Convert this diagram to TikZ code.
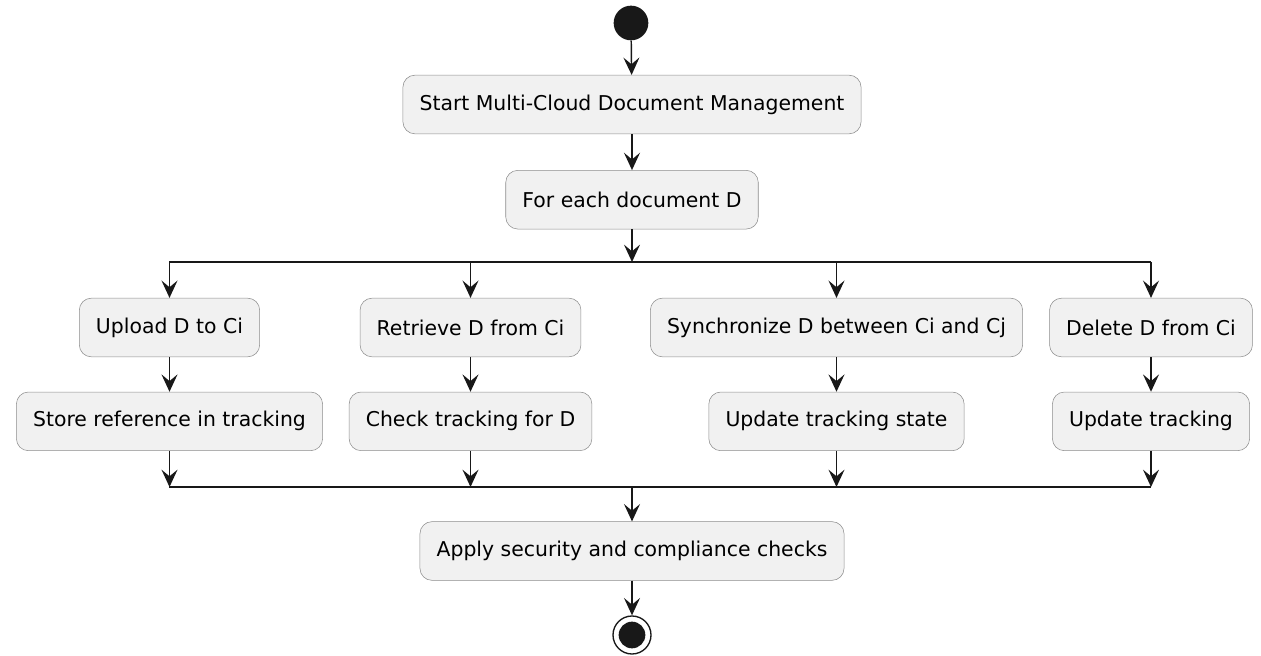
\documentclass[tikz,border=0pt]{standalone}
\usepackage{fontspec}
\setmainfont{DejaVu Sans}
\usetikzlibrary{arrows.meta,positioning}
\definecolor{ink}{RGB}{24,24,24}
\definecolor{boxfill}{RGB}{241,241,241}
\definecolor{boxline}{RGB}{140,140,140}

\begin{document}
\begin{tikzpicture}[x=0.75pt,y=-0.75pt,
      act/.style={draw=boxline,fill=boxfill,rounded corners=9pt,minimum height=44pt,inner xsep=12.5pt,font=\fontsize{15.3}{18}\selectfont},
      arr/.style={-{Stealth[length=13pt,width=12pt,inset=5pt]},line width=1.1pt,ink},
      bar/.style={line width=1.8pt,ink}
    ]
      \useasboundingbox (0,0) rectangle (1261,656);
      \node[circle,fill=ink,minimum size=26pt,inner sep=0pt] (start) at (631,23) {};
      \node[act] (init) at (632,104.5) {Start Multi-Cloud Document Management};
      \node[act,below=27pt of init] (each) {For each document D};
      \coordinate (forkL) at (169,262);
      \coordinate (forkR) at (1151,262);
      % four branches
      \node[act] (upload) at (169.5,327.5) {Upload D to Ci};
      \node[act] (fetch) at (470.5,327.5) {Retrieve D from Ci};
      \node[act] (sync) at (836.5,327.5) {Synchronize D between Ci and Cj};
      \node[act] (remove) at (1151,327.5) {Delete D from Ci};
      \node[act,below=26pt of upload] (store) {Store reference in tracking};
      \node[act,below=26pt of fetch] (check) {Check tracking for D};
      \node[act,below=26pt of sync] (state) {Update tracking state};
      \node[act,below=26pt of remove] (track) {Update tracking};
      \coordinate (joinL) at (169,487);
      \coordinate (joinR) at (1151,487);
      \node[act] (secure) at (632,551) {Apply security and compliance checks};
      \node[circle,draw=ink,line width=1pt,fill=white,minimum size=28.5pt,inner sep=0pt,
        path picture={\fill[ink] (path picture bounding box.center) circle (10pt);}] (stop) at (632,635) {};
      \draw[arr] (start) -- (init);
      \draw[arr] (init) -- (each);
      \draw[arr] (each) -- (each |- forkL);
      \draw[bar] (forkL) -- (forkR);
      \foreach \a/\b in {upload/store,fetch/check,sync/state,remove/track}{
        \draw[arr] (\a |- forkL) -- (\a);
        \draw[arr] (\a) -- (\b);
        \draw[arr] (\b) -- (\b |- joinL);
      }
      \draw[bar] (joinL) -- (joinR);
      \draw[arr] (secure |- joinL) -- (secure);
      \draw[arr] (secure) -- (stop);
    \end{tikzpicture}
\end{document}
